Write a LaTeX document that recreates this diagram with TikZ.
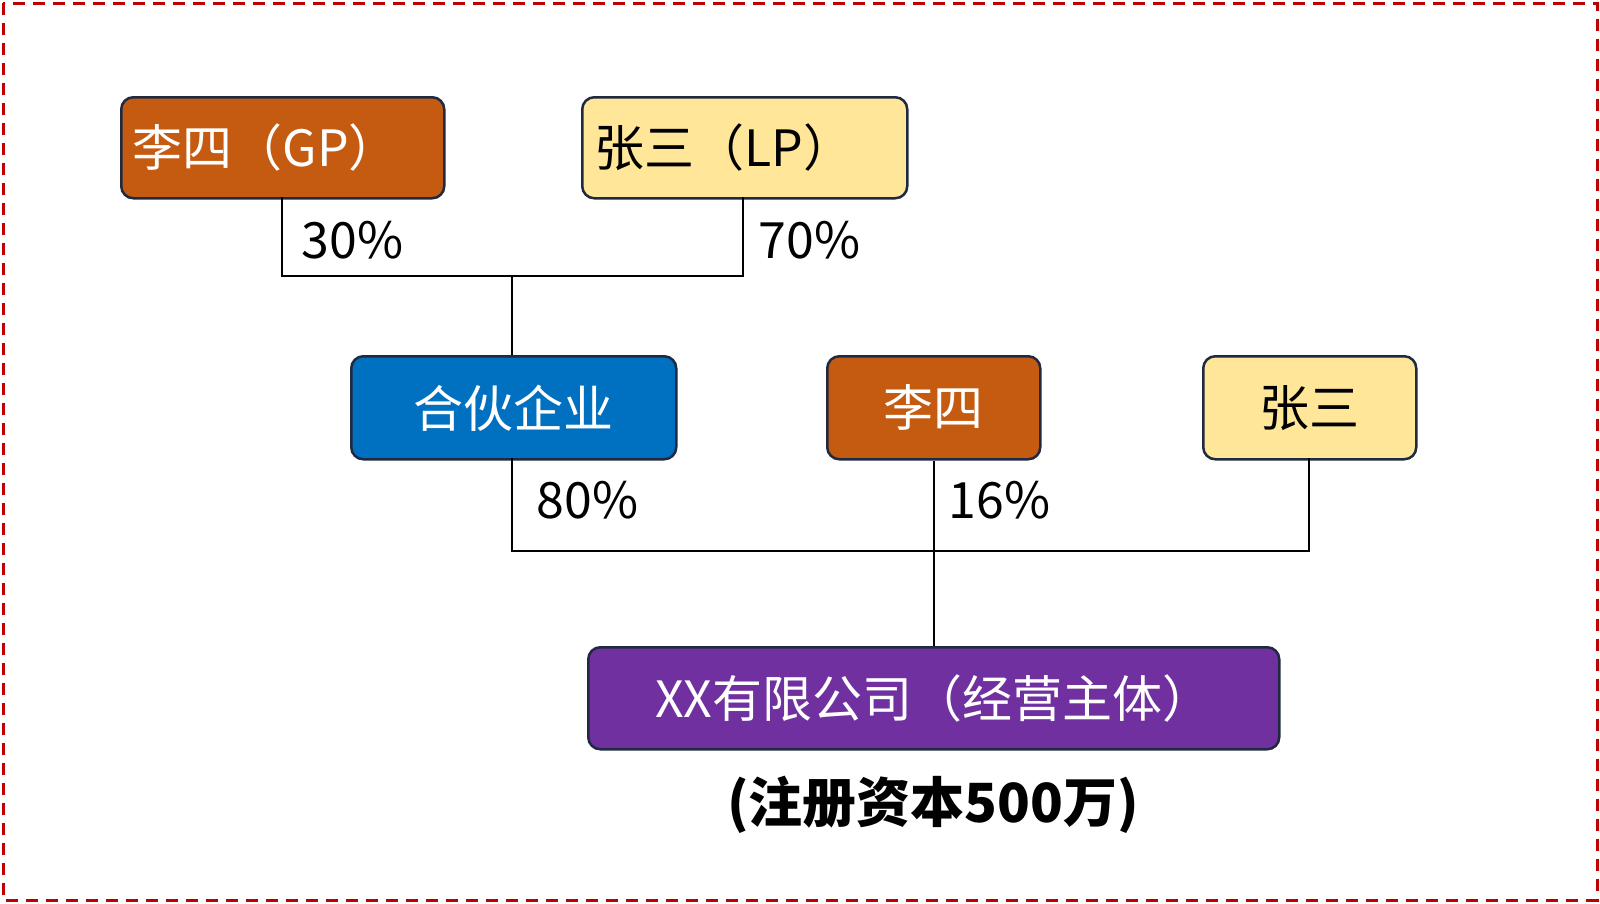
\documentclass[tikz,border=0pt]{standalone}
\usepackage{fontspec}
\setmainfont{Noto Sans CJK SC}
\definecolor{org}{HTML}{C55A11}
\definecolor{yel}{HTML}{FFE699}
\definecolor{blu}{HTML}{0070C0}
\definecolor{pur}{HTML}{7030A0}
\definecolor{edge}{HTML}{1F2A40}
\begin{document}
\begin{tikzpicture}[x=1pt,y=-1pt,
  box/.style={draw=edge,line width=2.5pt,rounded corners=12pt,font=\fontsize{50}{54}\selectfont},
  lab/.style={font=\fontsize{50}{54}\selectfont,anchor=west},
  ln/.style={line width=2.5pt,black}]
\draw[red!75!black,line width=3pt,dash pattern=on 12pt off 8pt] (3,3) rectangle (1597,900);
\node[box,fill=org,text=white,minimum width=323pt,minimum height=101pt,anchor=north west,text width=300pt] (gp) at (120,96) {李四（GP）};
\node[box,fill=yel,minimum width=325pt,minimum height=101pt,anchor=north west,text width=300pt] (lp) at (581,96) {张三（LP）};
\node[box,fill=blu,text=white,minimum width=325pt,minimum height=103pt,anchor=north west] (hh) at (350,355) {合伙企业};
\node[box,fill=org,text=white,minimum width=213pt,minimum height=103pt,anchor=north west] (ls) at (826,355) {李四};
\node[box,fill=yel,minimum width=213pt,minimum height=103pt,anchor=north west] (zs) at (1202,355) {张三};
\node[box,fill=pur,text=white,minimum width=691pt,minimum height=102pt,anchor=north west] (co) at (587,646) {XX有限公司（经营主体）};
\coordinate (j1) at (512,276);
\coordinate (j2) at (933,551);
\draw[ln] (282,197) |- (j1) -| (743,197);
\draw[ln] (j1) -- (j1 |- hh.north);
\draw[ln] (512,458) |- (j2) -| (1309,458);
\draw[ln] (ls.south) -- (co.north);
\node[lab] (p30) at (298,240) {30\%};
\node[lab] (p70) at (755,240) {70\%};
\node[lab] (p80) at (533,500) {80\%};
\node[lab] (p16) at (945,500) {16\%};
\node[font=\fontsize{54}{58}\selectfont\bfseries] (cap) at (933,805) {(注册资本500万)};
\pgfresetboundingbox
\useasboundingbox (0,0) rectangle (1600,903);
\end{tikzpicture}
\end{document}
